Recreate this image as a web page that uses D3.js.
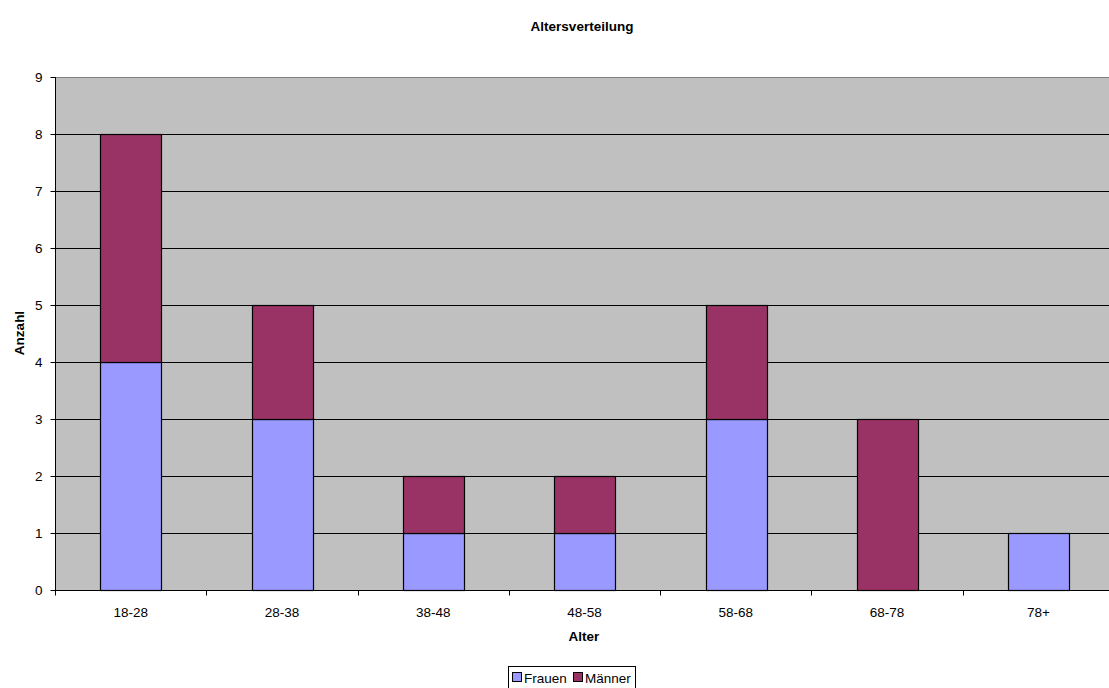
<!DOCTYPE html>
<html>
<head>
<meta charset="utf-8">
<script src="https://cdn.jsdelivr.net/npm/d3@7"></script>
<style>
  html, body { margin: 0; padding: 0; background: #fff; }
  svg { display: block; font-family: "Liberation Sans", Arial, sans-serif; }
</style>
</head>
<body>
<svg id="chart" width="1109" height="688"></svg>
<script>
// Age groups and head counts per group
const categories = ["18-28", "28-38", "38-48", "48-58", "58-68", "68-78", "78+"];
const frauen = [4, 3, 1, 1, 3, 0, 1];
const maenner = [4, 2, 1, 1, 2, 3, 0];
const seriesNames = ["Frauen", "Männer"];
const seriesColors = ["#9999FF", "#993366"];
const yTicks = [0, 1, 2, 3, 4, 5, 6, 7, 8, 9];

const svg = d3.select("#chart");
const W = 1109, H = 688;
// the plot area runs slightly past the right edge of the canvas
const m = { left: 55, right: -5, top: 77, bottom: 98 };
const labelSize = 13.5;

const x = d3.scaleBand().domain(categories).range([m.left, W - m.right]).paddingInner(0.6).paddingOuter(0.3);
const xEdges = d3.scaleLinear().domain([0, categories.length]).range([m.left, W - m.right]);
const y = d3.scaleLinear().domain([0, 9]).range([H - m.bottom, m.top]);

// plot background
svg.append("rect")
  .attr("x", m.left).attr("y", m.top)
  .attr("width", W - m.right - m.left).attr("height", y(0) - m.top)
  .attr("fill", "#C0C0C0");
svg.append("line")
  .attr("x1", m.left).attr("x2", W).attr("y1", m.top + 0.5).attr("y2", m.top + 0.5)
  .attr("stroke", "#808080").attr("stroke-width", 1);

// horizontal gridlines
svg.append("g").selectAll("line")
  .data(yTicks.filter(t => t > 0 && t < 9))
  .join("line")
  .attr("x1", m.left).attr("x2", W)
  .attr("y1", d => Math.round(y(d)) + 0.5).attr("y2", d => Math.round(y(d)) + 0.5)
  .attr("stroke", "#000").attr("stroke-width", 1);

// stacked bars
const rows = categories.map((c, i) => ({ cat: c, Frauen: frauen[i], "Männer": maenner[i] }));
const stack = d3.stack().keys(seriesNames)(rows);
stack.forEach((layer, li) => {
  svg.append("g").selectAll("rect")
    .data(layer.filter(d => d[1] - d[0] > 0))
    .join("rect")
    .attr("x", d => Math.round(x(d.data.cat)) + 0.5)
    .attr("y", d => Math.round(y(d[1])) + 0.5)
    .attr("width", Math.round(x.bandwidth()))
    .attr("height", d => Math.round(y(d[0])) - Math.round(y(d[1])))
    .attr("fill", seriesColors[li])
    .attr("stroke", "#000").attr("stroke-width", 1.2);
});

// y axis
const yAxis = svg.append("g").attr("transform", `translate(${m.left + 0.5},0)`);
yAxis.append("line").attr("y1", m.top).attr("y2", y(0)).attr("stroke", "#000");
yAxis.selectAll("g.tick").data(yTicks).join("g")
  .attr("class", "tick")
  .attr("transform", d => `translate(0,${Math.round(y(d)) + 0.5})`)
  .each(function (d) {
    const g = d3.select(this);
    g.append("line").attr("x1", -5).attr("x2", 0).attr("stroke", "#000");
    g.append("text").attr("x", -13).attr("dy", "0.35em")
      .attr("text-anchor", "end").attr("font-size", labelSize).attr("fill", "#000").text(d);
  });

// x axis
const xAxis = svg.append("g").attr("transform", `translate(0,${Math.round(y(0)) + 0.5})`);
xAxis.append("line").attr("x1", m.left).attr("x2", W).attr("stroke", "#000");
xAxis.selectAll("line.tk").data(d3.range(categories.length + 1)).join("line")
  .attr("class", "tk")
  .attr("x1", d => Math.round(xEdges(d)) + 0.5).attr("x2", d => Math.round(xEdges(d)) + 0.5)
  .attr("y1", 0).attr("y2", 5).attr("stroke", "#000");
xAxis.selectAll("text").data(categories).join("text")
  .attr("x", d => x(d) + x.bandwidth() / 2).attr("y", 26.5)
  .attr("text-anchor", "middle").attr("font-size", labelSize).attr("fill", "#000").text(d => d);

// titles
svg.append("text").attr("x", 582).attr("y", 31)
  .attr("text-anchor", "middle").attr("font-size", 13.5).attr("font-weight", "bold").text("Altersverteilung");
svg.append("text").attr("x", 584).attr("y", 641)
  .attr("text-anchor", "middle").attr("font-size", 13.5).attr("font-weight", "bold").text("Alter");
svg.append("text").attr("transform", "translate(24,333) rotate(-90)")
  .attr("text-anchor", "middle").attr("font-size", 13.5).attr("font-weight", "bold").text("Anzahl");

// legend
const lg = svg.append("g").attr("transform", "translate(508.5,666.5)");
lg.append("rect").attr("width", 127).attr("height", 28).attr("fill", "#fff").attr("stroke", "#000");
const items = [{ n: seriesNames[0], c: seriesColors[0], x: 4 }, { n: seriesNames[1], c: seriesColors[1], x: 65 }];
items.forEach(it => {
  lg.append("rect").attr("x", it.x).attr("y", 6).attr("width", 9).attr("height", 9)
    .attr("fill", it.c).attr("stroke", "#000");
  lg.append("text").attr("x", it.x + 11.5).attr("y", 16).attr("font-size", labelSize).text(it.n);
});
</script>
</body>
</html>
